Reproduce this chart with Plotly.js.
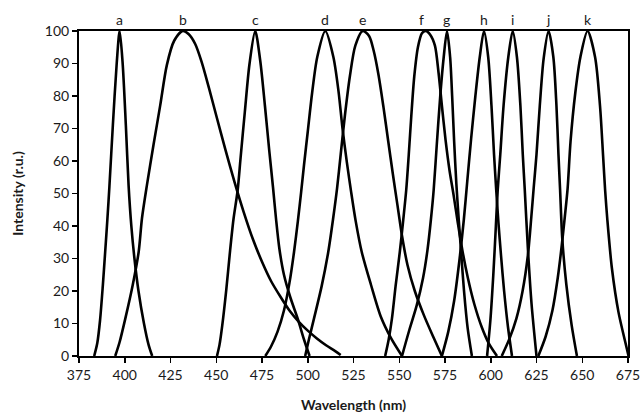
<!DOCTYPE html>
<html>
<head>
<meta charset="utf-8">
<script src="https://cdn.plot.ly/plotly-3.0.1.min.js"></script>
<style>
  html, body { margin: 0; padding: 0; background: #ffffff; }
  #chart { width: 640px; height: 417px; }
</style>
</head>
<body>
<div id="chart"></div>
<script>
// Emission spectra of eleven bands (a–k), wavelength in nm vs. relative intensity.
const aWl  = [383.3, 385.0, 386.5, 388.0, 389.3, 390.5, 391.6, 393.5, 395.6, 397.2, 398.8, 400.6, 402.1, 403.6, 405.3, 407.5, 410.5, 413.0, 415.0];
const aInt = [0, 4, 11, 21.5, 32, 42, 52, 71, 90, 100, 90.5, 71, 52.5, 40, 30, 20, 10, 3.5, 0];

const bWl  = [394.8, 397.2, 400.3, 404.3, 407.6, 409.4, 412.1, 415.7, 419.4, 423.0, 427.0, 431.6, 435.0, 438.5, 442.0, 446.0, 450.0, 455.0, 460.0, 465.0, 470.0, 475.0, 480.0, 485.0, 490.0, 495.0, 500.0, 505.0, 510.0, 515.0, 518.0];
const bInt = [0, 4.3, 11.5, 21.7, 32, 42.3, 52.5, 64.9, 77.2, 89.5, 97, 100, 99, 96, 90.5, 82.5, 74, 63.5, 53.5, 44.3, 36, 29, 23, 18.3, 14, 10.6, 7.8, 5.4, 3.3, 1.5, 0.3];

const cWl  = [450.4, 451.8, 453.3, 455.5, 457.4, 459.4, 461.7, 463.3, 465.6, 468.2, 471.3, 474.0, 476.6, 479.0, 481.0, 482.7, 484.5, 487.0, 490.5, 494.5, 498.0, 501.0];
const cInt = [0, 3.5, 9.5, 20.5, 31.5, 42, 51, 61, 75, 90, 100, 91, 77, 63, 52, 42, 33, 25, 18, 11.5, 5, 0];

const dWl  = [476.8, 480.0, 483.5, 487.0, 490.0, 492.5, 494.6, 496.4, 498.0, 500.0, 502.4, 505.2, 509.6, 514.0, 516.8, 519.0, 521.4, 523.7, 526.2, 529.5, 534.5, 540.0, 545.5, 551.5];
const dInt = [0, 3, 7.5, 14, 22.5, 32, 41.5, 50.5, 59, 69, 81, 92, 100, 92, 81.5, 70, 59.5, 50.5, 41.5, 32, 22, 12, 5.5, 0];

const eWl  = [498.6, 500.6, 503.4, 507.6, 511.2, 513.8, 516.0, 518.0, 520.3, 523.0, 526.0, 530.0, 533.5, 536.0, 538.7, 541.4, 544.0, 546.5, 549.0, 551.5, 554.5, 558.5, 563.5, 568.5, 573.3];
const eInt = [0, 5, 11.5, 21.5, 32, 42, 51.5, 62, 74, 86, 95.5, 100, 98.5, 94, 86.4, 76.5, 66, 56, 46.5, 37, 28, 20, 12.5, 6, 0];

const fWl  = [542.3, 544.2, 546.0, 548.0, 550.3, 552.2, 553.8, 555.2, 556.6, 558.2, 560.2, 562.4, 564.5, 567.0, 569.5, 571.5, 573.3, 575.3, 577.5, 579.7, 582.0, 584.5, 587.5, 591.0, 595.0, 599.0, 603.4];
const fInt = [0, 5, 11.5, 21.5, 32, 42, 51, 62, 74, 86, 95, 99.3, 100, 98.8, 95.5, 87, 77, 66.5, 57, 49.5, 41, 32.5, 24, 16, 9, 3.8, 0];

const gWl  = [551.5, 555.5, 559.5, 563.0, 565.4, 567.3, 568.8, 570.5, 572.4, 574.3, 576.1, 577.8, 578.9, 580.0, 581.2, 582.5, 583.8, 585.4, 587.4, 589.7];
const gInt = [0, 8, 15.5, 24, 32.5, 42, 51, 65, 80, 92, 100, 92, 80, 66, 53, 42, 32, 20, 8.5, 0];

const hWl  = [573.3, 576.8, 580.0, 583.0, 585.3, 587.2, 589.3, 591.6, 594.0, 596.3, 598.6, 600.4, 601.8, 603.0, 604.2, 605.6, 607.3, 609.4, 611.6];
const hInt = [0, 7.5, 17, 30, 42, 54, 67, 80, 92, 100, 92, 77, 62, 51, 41, 31, 20, 9, 0];

const iWl  = [598.0, 599.8, 601.4, 602.8, 603.8, 605.2, 607.0, 609.6, 612.0, 614.3, 616.2, 617.5, 618.6, 620.3, 622.3, 625.0];
const iInt = [0, 11, 25, 40, 51, 62, 77, 92, 100, 92, 77, 62, 51, 33, 16, 0];

const jWl  = [606.0, 610.0, 614.0, 617.4, 620.3, 622.2, 623.5, 625.0, 626.8, 628.9, 631.6, 634.2, 635.9, 637.0, 637.9, 639.1, 641.3, 644.2, 647.1];
const jInt = [0, 5, 11.5, 20, 31, 43, 52, 62, 77, 91.5, 100, 92, 77, 62, 51, 36, 22, 9.5, 0];

const kWl  = [626.0, 630.0, 633.7, 636.6, 638.8, 640.5, 642.0, 643.6, 646.2, 649.0, 652.9, 657.0, 659.7, 661.4, 662.5, 663.7, 666.2, 669.8, 673.5, 675.3];
const kInt = [0, 6, 14, 24, 34, 43, 51.5, 66, 81, 92, 100, 92, 77, 61.5, 51, 42, 27, 13.5, 4.3, 0];

// Band letters and the wavelength each one sits over
const bandLabels = ['a', 'b', 'c', 'd', 'e', 'f', 'g', 'h', 'i', 'j', 'k'];
const bandPeaks  = [397, 432, 471.5, 509.5, 530, 562, 576, 596.5, 612, 631.5, 653];

const xTicks = [375, 400, 425, 450, 475, 500, 525, 550, 575, 600, 625, 650, 675];
const yTicks = [0, 10, 20, 30, 40, 50, 60, 70, 80, 90, 100];

const spectra = [
  [aWl, aInt], [bWl, bInt], [cWl, cInt], [dWl, dInt], [eWl, eInt], [fWl, fInt],
  [gWl, gInt], [hWl, hInt], [iWl, iInt], [jWl, jInt], [kWl, kInt]
];

const traces = spectra.map(([wl, inten], n) => ({
  x: wl,
  y: inten,
  type: 'scatter',
  mode: 'lines',
  name: bandLabels[n],
  line: { color: '#000000', width: 2.6, shape: 'spline', smoothing: 0.8 },
  hoverinfo: 'skip'
}));

const font = 'Lato, "Open Sans", "Liberation Sans", sans-serif';

const annotations = bandLabels.map((t, n) => ({
  x: bandPeaks[n],
  xref: 'x',
  y: 1,
  yref: 'paper',
  yanchor: 'bottom',
  yshift: 1,
  text: t,
  showarrow: false,
  font: { family: font, size: 14, color: '#1a1a1a' }
}));

const layout = {
  width: 640,
  height: 417,
  margin: { l: 79, r: 12, t: 31, b: 61 },
  paper_bgcolor: '#ffffff',
  plot_bgcolor: '#ffffff',
  showlegend: false,
  font: { family: font, size: 14, color: '#1a1a1a' },
  xaxis: {
    range: [375, 675],
    tickvals: xTicks,
    ticks: 'outside',
    ticklen: 5,
    tickwidth: 1.5,
    tickcolor: '#000000',
    ticklabeloverflow: 'allow',
    showline: true,
    linecolor: '#000000',
    linewidth: 2,
    mirror: true,
    showgrid: false,
    zeroline: false,
    automargin: false,
    tickfont: { family: font, size: 14, color: '#1a1a1a' },
    title: { text: '<b>Wavelength (nm)</b>', font: { family: font, size: 14, color: '#1a1a1a' }, standoff: 18 }
  },
  yaxis: {
    range: [0, 100],
    tickvals: yTicks,
    ticks: 'outside',
    ticklen: 5,
    tickwidth: 1.5,
    tickcolor: '#000000',
    showline: true,
    linecolor: '#000000',
    linewidth: 2,
    mirror: true,
    showgrid: false,
    zeroline: false,
    tickfont: { family: font, size: 14, color: '#1a1a1a' },
    title: { text: '<b>Intensity (r.u.)</b>', font: { family: font, size: 14, color: '#1a1a1a' }, standoff: 18 }
  },
  annotations: annotations
};

Plotly.newPlot('chart', traces, layout, { staticPlot: true, displayModeBar: false });
</script>
</body>
</html>
